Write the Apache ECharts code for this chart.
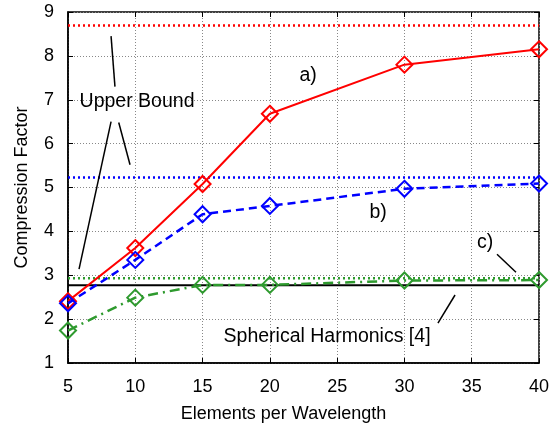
<!DOCTYPE html>
<html>
<head>
<meta charset="utf-8">
<script src="https://cdn.jsdelivr.net/npm/echarts@6/dist/echarts.min.js"></script>
<style>html,body{margin:0;padding:0;background:#fff}#c{width:557px;height:428px}</style>
</head>
<body>
<div id="c"></div>
<script>
const xVals = [5, 10, 15, 20, 30, 40];
const seriesA = [2.41, 3.62, 5.08, 6.68, 7.80, 8.15];
const seriesB = [2.36, 3.35, 4.39, 4.58, 4.97, 5.09];
const seriesC = [1.74, 2.49, 2.78, 2.78, 2.88, 2.89];
const boundA = 8.69;
const boundB = 5.23;
const boundC = 2.93;
const spherical = 2.77;
const xRange = [5, 40];
const xTicks = [5, 10, 15, 20, 25, 30, 35, 40];
const yTicks = [1, 2, 3, 4, 5, 6, 7, 8, 9];
const labelTexts = ['Upper Bound', 'a)', 'b)', 'c)', 'Spherical Harmonics [4]'];
const labelX = [10.13, 22.84, 28.04, 35.99, 24.25];
const labelY = [6.95, 7.55, 4.43, 3.75, 1.59];
const leaderX1 = [8.20, 8.20, 8.77, 36.88, 32.49];
const leaderY1 = [8.45, 6.50, 6.48, 3.48, 1.91];
const leaderX2 = [8.49, 5.82, 9.61, 38.29, 33.76];
const leaderY2 = [7.30, 3.14, 5.52, 3.07, 2.55];

const FONT = 'Liberation Sans';
const chart = echarts.init(document.getElementById('c'), null, {renderer: 'canvas'});

function pts(ys) { return xVals.map((x, i) => [x, ys[i]]); }
function hline(v) { return xRange.map(x => [x, v]); }

const series = [];
function addH(v, color, type, width) {
  series.push({type: 'line', data: hline(v), symbol: 'none', silent: true,
    lineStyle: {color: color, type: type, width: width}, z: 2});
}
addH(boundA, '#ff0000', [2, 3], 2.5);
addH(boundB, '#0000ff', [2, 3], 2.5);
addH(spherical, '#000000', 'solid', 2);
addH(boundC, '#2e9a2e', [2, 3], 2.5);

function addS(ys, color, type, width) {
  series.push({type: 'line', data: pts(ys), symbol: 'diamond', symbolSize: 16,
    lineStyle: {color: color, type: type, width: width},
    itemStyle: {color: 'rgba(0,0,0,0)', borderColor: color, borderWidth: 2}, z: 3});
}
addS(seriesA, '#ff0000', 'solid', 2);
addS(seriesB, '#0000ff', [8, 5], 2.5);
addS(seriesC, '#2e9a2e', [10, 5, 2, 5], 2.5);

for (let i = 0; i < leaderX1.length; i++) {
  series.push({type: 'line', data: [[leaderX1[i], leaderY1[i]], [leaderX2[i], leaderY2[i]]],
    symbol: 'none', lineStyle: {color: '#000', width: 1.5}, z: 4});
}
series.push({type: 'scatter', symbolSize: 1, itemStyle: {color: 'rgba(0,0,0,0)'},
  data: labelTexts.map((t, i) => ({name: t, value: [labelX[i], labelY[i]]})),
  label: {show: true, position: 'inside', formatter: p => p.name, color: '#000',
    textBorderWidth: 0, opacity: 1, fontFamily: FONT, fontSize: 19.5}, z: 5});

const axisLabel = {color: '#000', fontFamily: FONT, fontSize: 18};
chart.setOption({
  animation: false,
  backgroundColor: '#fff',
  grid: {left: 68, right: 18, top: 12, bottom: 64, show: true, borderColor: '#000', borderWidth: 1.5},
  xAxis: [{
    type: 'value', min: 5, max: 40, interval: 5,
    name: 'Elements per Wavelength', nameLocation: 'middle', nameGap: 42,
    nameTextStyle: {color: '#000', fontFamily: FONT, fontSize: 18, padding: [0, 40, 0, 0]},
    axisLine: {show: true, lineStyle: {color: '#000', width: 1.5}},
    axisTick: {show: true, inside: true, length: 5, lineStyle: {color: '#000'}},
    axisLabel: Object.assign({margin: 15, formatter: v => xTicks.includes(v) ? String(v) : ''}, axisLabel),
    splitLine: {show: true, lineStyle: {color: '#888', type: [1, 2], width: 1}}
  }, {
    type: 'value', min: 5, max: 40, interval: 5, position: 'top',
    axisLine: {show: false}, axisLabel: {show: false}, splitLine: {show: false},
    axisTick: {show: true, inside: true, length: 5, lineStyle: {color: '#000'}}
  }],
  yAxis: [{
    type: 'value', min: 1, max: 9, interval: 1,
    name: 'Compression Factor', nameLocation: 'middle', nameGap: 37, nameRotate: 90,
    nameTextStyle: {color: '#000', fontFamily: FONT, fontSize: 18},
    axisLine: {show: true, lineStyle: {color: '#000', width: 1.5}},
    axisTick: {show: true, inside: true, length: 5, lineStyle: {color: '#000'}},
    axisLabel: Object.assign({margin: 14, formatter: v => yTicks.includes(v) ? String(v) : ''}, axisLabel),
    splitLine: {show: true, lineStyle: {color: '#888', type: [1, 2], width: 1}}
  }, {
    type: 'value', min: 1, max: 9, interval: 1, position: 'right',
    axisLine: {show: false}, axisLabel: {show: false}, splitLine: {show: false},
    axisTick: {show: true, inside: true, length: 5, lineStyle: {color: '#000'}}
  }],
  series: series
});
</script>
</body>
</html>
